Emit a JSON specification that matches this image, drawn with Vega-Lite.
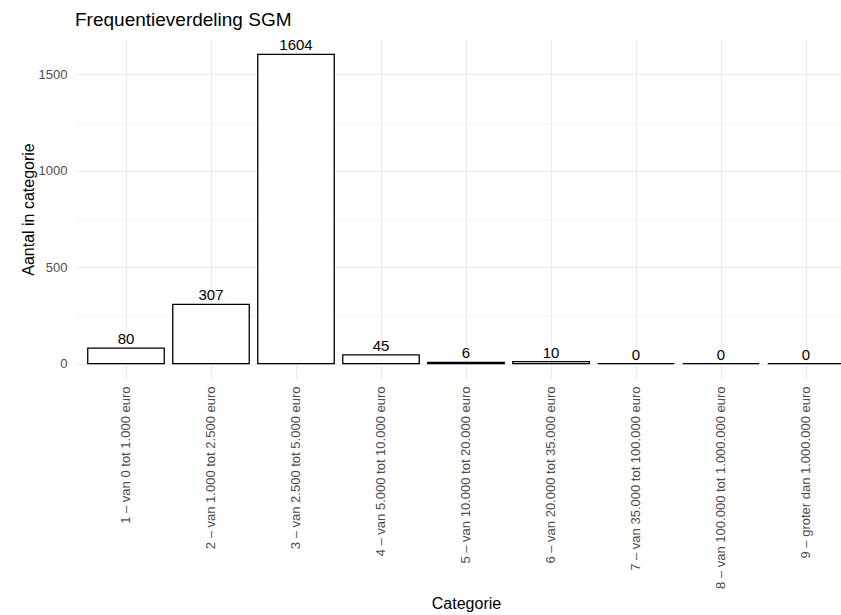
{
  "$schema": "https://vega.github.io/schema/vega-lite/v6.json",
  "autosize": "none",
  "width": 766,
  "height": 340,
  "padding": {"left": 75, "top": 39, "right": 0, "bottom": 236},
  "background": "white",
  "title": {"text": "Frequentieverdeling SGM", "anchor": "start", "frame": "group", "fontSize": 19, "fontWeight": "normal", "color": "black", "offset": 8},
  "config": {"font": "Liberation Sans", "view": {"stroke": null}},
  "data": {"values": [
    {"categorie": "1 – van 0 tot 1.000 euro", "n": 80},
    {"categorie": "2 – van 1.000 tot 2.500 euro", "n": 307},
    {"categorie": "3 – van 2.500 tot 5.000 euro", "n": 1604},
    {"categorie": "4 – van 5.000 tot 10.000 euro", "n": 45},
    {"categorie": "5 – van 10.000 tot 20.000 euro", "n": 6},
    {"categorie": "6 – van 20.000 tot 35.000 euro", "n": 10},
    {"categorie": "7 – van 35.000 tot 100.000 euro", "n": 0},
    {"categorie": "8 – van 100.000 tot 1.000.000 euro", "n": 0},
    {"categorie": "9 – groter dan 1.000.000 euro", "n": 0}
  ]},
  "encoding": {
    "x": {
      "field": "categorie", "type": "nominal", "sort": null,
      "scale": {"paddingInner": 0.1, "paddingOuter": 0.15, "range": [0, 782]},
      "axis": {
        "title": "Categorie", "titleFontSize": 16, "titleFontWeight": "normal", "titleColor": "black", "titlePadding": 16,
        "labelAngle": -90, "labelAlign": "right", "labelBaseline": "middle", "labelFontSize": 13, "labelColor": "#4D4D4D",
        "labelPadding": 7, "labelLimit": 0, "ticks": false, "tickSize": 0, "domain": false,
        "grid": true, "gridColor": "#EBEBEB", "gridWidth": 1.1
      }
    },
    "y": {
      "field": "n", "type": "quantitative",
      "scale": {"domain": [-80.2, 1684.2], "nice": false, "zero": false},
      "axis": {
        "title": "Aantal in categorie", "titleFontSize": 16, "titleFontWeight": "normal", "titleColor": "black", "titlePadding": 2,
        "values": [0, 250, 500, 750, 1000, 1250, 1500], "format": "d",
        "labelExpr": "datum.value % 500 === 0 ? datum.label : ''",
        "labelFontSize": 13, "labelColor": "#4D4D4D", "labelPadding": 8,
        "ticks": false, "tickSize": 0, "domain": false,
        "grid": true, "gridColor": "#EBEBEB",
        "gridWidth": {"condition": {"test": "datum.value % 500 !== 0", "value": 0.55}, "value": 1.1}
      }
    }
  },
  "layer": [
    {
      "mark": {"type": "bar", "fill": "white", "stroke": "black", "strokeWidth": 1.3},
      "encoding": {"y2": {"datum": 0}}
    },
    {
      "mark": {"type": "text", "baseline": "bottom", "dy": -1, "fontSize": 15, "color": "black"},
      "encoding": {"text": {"field": "n", "type": "quantitative"}}
    }
  ]
}
